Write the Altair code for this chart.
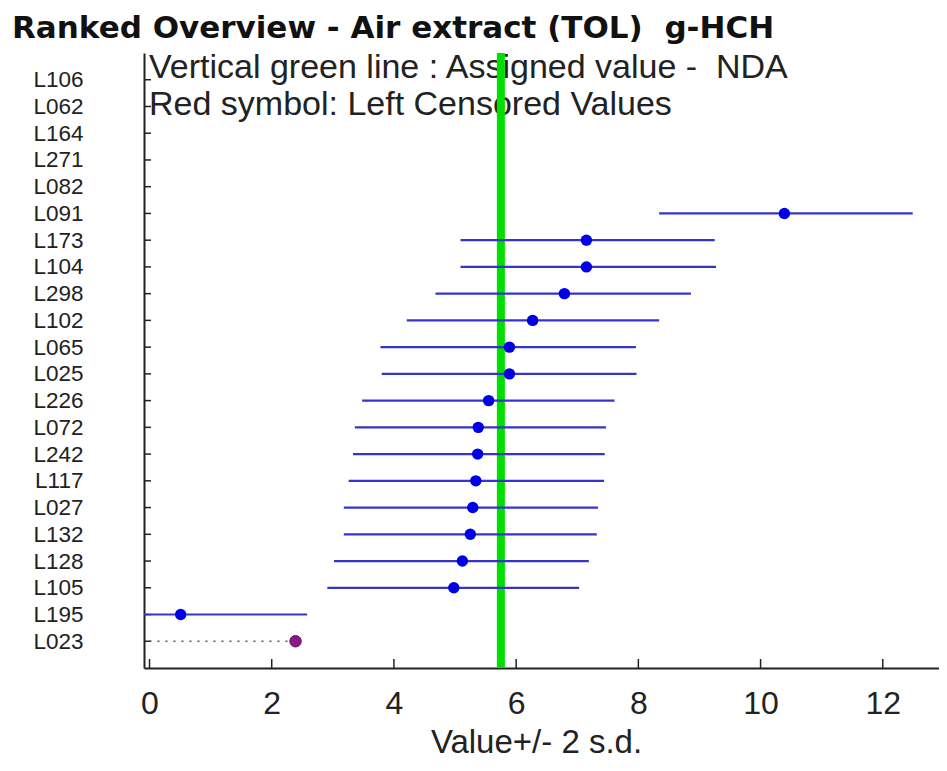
import altair as alt
import pandas as pd

# ---- data ----
labs = ["L106", "L062", "L164", "L271", "L082", "L091", "L173", "L104", "L298",
        "L102", "L065", "L025", "L226", "L072", "L242", "L117", "L027", "L132",
        "L128", "L105", "L195", "L023"]
vals = [None, None, None, None, None, 10.39, 7.15, 7.15, 6.79, 6.27, 5.89, 5.89,
        5.55, 5.38, 5.37, 5.34, 5.29, 5.25, 5.12, 4.98, 0.51, None]
lows = [None, None, None, None, None, 8.34, 5.09, 5.09, 4.68, 4.21, 3.78, 3.80,
        3.48, 3.36, 3.33, 3.26, 3.18, 3.18, 3.02, 2.91, -1.57, None]
highs = [None, None, None, None, None, 12.49, 9.25, 9.27, 8.86, 8.34, 7.96, 7.97,
         7.61, 7.47, 7.45, 7.44, 7.34, 7.32, 7.19, 7.03, 2.58, None]
cens_labs = ["L023"]
cens_vals = [2.39]
cens_from = [0.0]
assigned = [5.75]
xticks = [0, 2, 4, 6, 8, 10, 12]
title_text = "Ranked Overview - Air extract (TOL)\u00a0 g-HCH"
note1 = "Vertical green line : Assigned value -\u00a0 NDA"
note2 = "Red symbol: Left Censored Values"
xtitle = "Value+/- 2 s.d."

df = pd.DataFrame({"lab": labs, "val": vals, "lo": lows, "hi": highs})
dfd = df.dropna()
dfc = pd.DataFrame({"lab": cens_labs, "val": cens_vals, "start": cens_from})
dfa = pd.DataFrame({"a": assigned})
dft = pd.DataFrame({"t": xticks})

W, H = 795, 615
FONT = "Liberation Sans"

xscale = alt.Scale(domain=[-0.09, 12.92], nice=False, zero=False)
yscale = alt.Scale(type="point", domain=labs, padding=1)

xaxis = alt.Axis(values=xticks, ticks=False, grid=False, labelPadding=20,
                 labelFontSize=32, labelFont=FONT, labelColor="#222",
                 labelFlush=False, domainColor="#222", domainWidth=2,
                 title=xtitle, titleFont=FONT, titleFontSize=33,
                 titleFontWeight="normal", titleColor="#222",
                 titleBaseline="alphabetic", titleY=84, titleX=392,
                 titleAlign="center")
yaxis = alt.Axis(title=None, ticks=False, grid=False, labelPadding=61,
                 labelFontSize=22.5, labelFont=FONT, labelColor="#222",
                 domainColor="#222", domainWidth=2)

X = lambda f: alt.X(f, scale=xscale, axis=xaxis)
Y = lambda f: alt.Y(f, scale=yscale, axis=yaxis, sort=labs)

# y ticks (inward)
ytick = alt.Chart(pd.DataFrame({"lab": labs})).mark_rule(
    color="#222", strokeWidth=1.5).encode(
    y=Y("lab:N"), x=alt.value(0), x2=alt.value(7))

# x ticks (inward)
xtick = alt.Chart(dft).mark_rule(color="#222", strokeWidth=1.5).encode(
    x=X("t:Q"), y=alt.value(H), y2=alt.value(H - 9))

ttl = alt.Chart(pd.DataFrame({"t": [title_text]})).mark_text(
    align="left", baseline="alphabetic", font="DejaVu Sans", fontSize=31,
    fontWeight="bold", color="#111").encode(
    text="t:N", x=alt.value(-132), y=alt.value(-15.5))

t1 = alt.Chart(pd.DataFrame({"t": [note1]})).mark_text(
    align="left", baseline="alphabetic", font=FONT, fontSize=34,
    color="#222").encode(text="t:N", x=alt.value(5), y=alt.value(25))
t2 = alt.Chart(pd.DataFrame({"t": [note2]})).mark_text(
    align="left", baseline="alphabetic", font=FONT, fontSize=34,
    color="#222").encode(text="t:N", x=alt.value(5), y=alt.value(62))

green = alt.Chart(dfa).mark_rule(color="#00e000", strokeWidth=8).encode(
    x=X("a:Q"))

bars = alt.Chart(dfd).mark_rule(color="#3535cc", strokeWidth=2.2,
                                clip=True).encode(
    x=X("lo:Q"), x2="hi:Q", y=Y("lab:N"))

pts = alt.Chart(dfd).mark_circle(size=130, color="#0000e6",
                                 opacity=1).encode(
    x=X("val:Q"), y=Y("lab:N"))

cline = alt.Chart(dfc).mark_rule(color="#555", strokeWidth=1.6,
                                 strokeDash=[2, 6]).encode(
    x=X("start:Q"), x2="val:Q", y=Y("lab:N"))

cpts = alt.Chart(dfc).mark_circle(size=130, color="#8b1a89", opacity=1,
                                  stroke="#5a0a5a", strokeWidth=1).encode(
    x=X("val:Q"), y=Y("lab:N"))

chart = alt.layer(ytick, xtick, ttl, t1, t2, green, bars, pts, cline, cpts).properties(
    width=W, height=H,
    background="white",
    autosize=alt.AutoSizeParams(type="none"),
    padding={"left": 136, "top": 45, "right": 0, "bottom": 95},
).configure_view(strokeWidth=0, stroke="transparent")

chart.save("out.html", embed_options={"renderer": "svg", "actions": False})
